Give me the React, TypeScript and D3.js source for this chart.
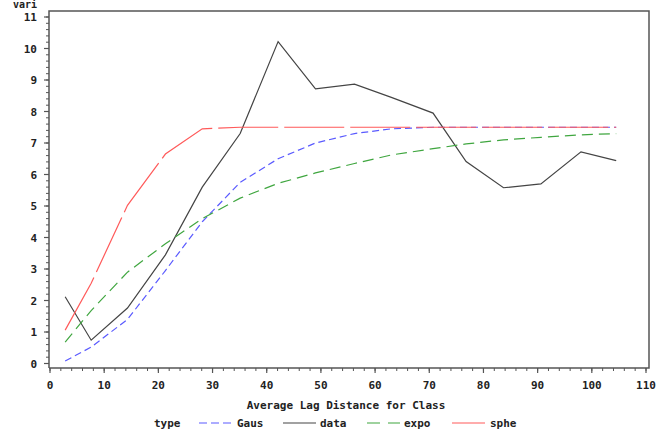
import React from "react";
import * as d3 from "d3";

const lags = [2.8, 7.6, 14.3, 21.3, 28.1, 35.1, 42.1, 49.0, 56.2, 63.0, 70.7, 76.8, 83.7, 90.6, 98.0, 104.5];
const dataVals = [2.12, 0.74, 1.76, 3.45, 5.6, 7.3, 10.22, 8.72, 8.87, 8.45, 7.95, 6.41, 5.58, 5.7, 6.72, 6.44];
const gausVals = [0.08, 0.52, 1.4, 2.95, 4.5, 5.75, 6.5, 7.0, 7.3, 7.45, 7.5, 7.5, 7.5, 7.5, 7.5, 7.5];
const expoVals = [0.68, 1.68, 2.9, 3.8, 4.6, 5.25, 5.72, 6.05, 6.35, 6.62, 6.82, 6.97, 7.1, 7.18, 7.26, 7.3];
const spheVals = [1.06, 2.55, 5.02, 6.65, 7.45, 7.5, 7.5, 7.5, 7.5, 7.5, 7.5, 7.5, 7.5, 7.5, 7.5, 7.5];

const xTicks = [0, 10, 20, 30, 40, 50, 60, 70, 80, 90, 100, 110];
const yTicks = [0, 1, 2, 3, 4, 5, 6, 7, 8, 9, 10, 11];

const seriesNames = ["Gaus", "data", "expo", "sphe"];
const seriesColors = ["#5a5aff", "#444444", "#3fa63f", "#ff5a5a"];
const seriesDash = ["7 4", "", "11 6", "60 6"];

export default function App() {
  const W = 665, H = 429;
  const x = d3.scaleLinear().domain([0, 110]).range([50, 646]);
  const y = d3.scaleLinear().domain([0, 11]).range([363.5, 17]);
  const frameTop = 11, frameRight = 649, axisY = 368, axisX = 49;
  const font = "'DejaVu Sans Mono', monospace";

  const allVals = [gausVals, dataVals, expoVals, spheVals];
  const line = d3.line<number>().x((_, i) => x(lags[i])).y((d) => y(d));

  const xMinor = d3.range(0, 110.001, 2);
  const yMinor = d3.range(0, 11.001, 0.2);

  const legendItems = [
    { lx: 199, tx: 237 },
    { lx: 283, tx: 320 },
    { lx: 367, tx: 404 },
    { lx: 452, tx: 490 },
  ];

  return (
    <svg width={W} height={H} style={{ position: "absolute", left: 0, top: 0, background: "#fff" }}>
      <path d={`M${axisX},${axisY} V${frameTop} H${frameRight} V${axisY} H${axisX}`} fill="none" stroke="#555" strokeWidth={1.5} />
      {yMinor.map((v, i) => (
        <line key={"ym" + i} x1={axisX - 3} x2={axisX} y1={y(v)} y2={y(v)} stroke="#555" strokeWidth={1} />
      ))}
      {yTicks.map((v) => (
        <g key={"y" + v}>
          <line x1={axisX - 5} x2={axisX} y1={y(v)} y2={y(v)} stroke="#555" strokeWidth={1.2} />
          <text x={37} y={y(v) + 4} textAnchor="end" fontFamily={font} fontWeight="bold" fontSize={11} fill="#222">{v}</text>
        </g>
      ))}
      {xMinor.map((v, i) => (
        <line key={"xm" + i} x1={x(v)} x2={x(v)} y1={axisY} y2={axisY + 3} stroke="#555" strokeWidth={1} />
      ))}
      {xTicks.map((v) => (
        <g key={"x" + v}>
          <line x1={x(v)} x2={x(v)} y1={axisY} y2={axisY + 5} stroke="#555" strokeWidth={1.2} />
          <text x={x(v)} y={389} textAnchor="middle" fontFamily={font} fontWeight="bold" fontSize={11} fill="#222">{v}</text>
        </g>
      ))}
      <text x={13} y={8} fontFamily={font} fontWeight="bold" fontSize={10} fill="#222">vari</text>
      <text x={346} y={409} textAnchor="middle" fontFamily={font} fontWeight="bold" fontSize={11} fill="#222">Average Lag Distance for Class</text>
      {allVals.map((vals, i) => (
        <path key={"s" + i} d={line(vals) || ""} fill="none" stroke={seriesColors[i]} strokeWidth={1.2} strokeDasharray={seriesDash[i] || undefined} />
      ))}
      <text x={154} y={427} fontFamily={font} fontWeight="bold" fontSize={11} fill="#222">type</text>
      {legendItems.map((it, i) => (
        <g key={"l" + i}>
          <line x1={it.lx} x2={it.lx + 33} y1={423} y2={423} stroke={seriesColors[i]} strokeWidth={1.2} strokeDasharray={i === 0 ? "8 4" : i === 2 ? "13 8" : undefined} />
          <text x={it.tx} y={427} fontFamily={font} fontWeight="bold" fontSize={11} fill="#222">{seriesNames[i]}</text>
        </g>
      ))}
    </svg>
  );
}
